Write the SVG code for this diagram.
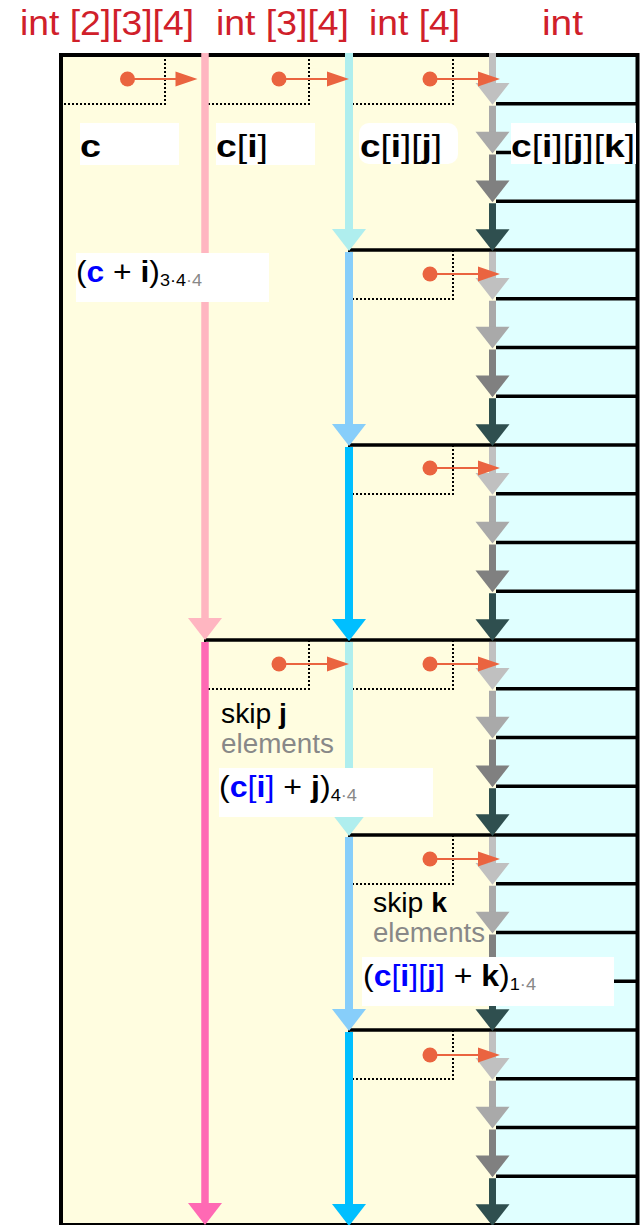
<svg xmlns="http://www.w3.org/2000/svg" xmlns:xlink="http://www.w3.org/1999/xlink" width="641" height="1225" viewBox="0 0 641 1225">
<style>
.h{font-family:"Liberation Sans",Arial,sans-serif;font-size:35px;fill:#D0202A}
.lb{font-family:"Liberation Sans",Arial,sans-serif;font-size:32px;font-weight:bold;fill:#000}
.m{font-family:"Liberation Sans",Arial,sans-serif;font-size:30px;fill:#000}
.s{font-family:"Liberation Sans",Arial,sans-serif;font-size:27px;fill:#000}
.n{font-weight:normal}
.b{font-weight:bold}
.bl{fill:#0000FF}
.g{fill:#888888}
.sub{font-size:17px;font-weight:normal}
.wb{fill:#FFFFFF}
.ln{stroke:#000;stroke-width:3.5}
.dot{fill:none;stroke:#000;stroke-width:2;stroke-dasharray:2 2}
.or{fill:#EA6440}
.orl{stroke:#EA6440;stroke-width:2}
</style>
<defs>
<g id="ga"><rect x="-3.5" y="2" width="7" height="27"/><polygon points="-17,28 17,28 0,49.75"/></g>
<g id="ca"><rect x="-4" y="2" width="8" height="173"/><polygon points="-17,174 17,174 0,196"/></g>
<g id="pa"><rect x="-3.75" y="2" width="7.5" height="563"/><polygon points="-17,563 17,563 0,585"/></g>
<g id="op"><circle cx="0" cy="0" r="7.5" class="or"/><line x1="0" y1="0" x2="50" y2="0" class="orl"/><polygon points="48,-7.5 70,0 48,7.5" class="or"/></g>
</defs>
<g id="background">
<rect x="61" y="55" width="435" height="1170" fill="#FFFDE0"/>
<rect x="496" y="55" width="141" height="1170" fill="#E0FFFF"/>
</g>
<g id="connectors">
<g id="cell-lines">
<line class="ln" x1="496" y1="103.75" x2="637" y2="103.75"/>
<line class="ln" x1="496" y1="152.5" x2="637" y2="152.5"/>
<line class="ln" x1="496" y1="201.25" x2="637" y2="201.25"/>
<line class="ln" x1="349" y1="250" x2="637" y2="250"/>
<line class="ln" x1="496" y1="298.75" x2="637" y2="298.75"/>
<line class="ln" x1="496" y1="347.5" x2="637" y2="347.5"/>
<line class="ln" x1="496" y1="396.25" x2="637" y2="396.25"/>
<line class="ln" x1="349" y1="445" x2="637" y2="445"/>
<line class="ln" x1="496" y1="493.75" x2="637" y2="493.75"/>
<line class="ln" x1="496" y1="542.5" x2="637" y2="542.5"/>
<line class="ln" x1="496" y1="591.25" x2="637" y2="591.25"/>
<line class="ln" x1="205" y1="640" x2="637" y2="640"/>
<line class="ln" x1="496" y1="688.75" x2="637" y2="688.75"/>
<line class="ln" x1="496" y1="737.5" x2="637" y2="737.5"/>
<line class="ln" x1="496" y1="786.25" x2="637" y2="786.25"/>
<line class="ln" x1="349" y1="835" x2="637" y2="835"/>
<line class="ln" x1="496" y1="883.75" x2="637" y2="883.75"/>
<line class="ln" x1="496" y1="932.5" x2="637" y2="932.5"/>
<line class="ln" x1="496" y1="981.25" x2="637" y2="981.25"/>
<line class="ln" x1="349" y1="1030" x2="637" y2="1030"/>
<line class="ln" x1="496" y1="1078.75" x2="637" y2="1078.75"/>
<line class="ln" x1="496" y1="1127.5" x2="637" y2="1127.5"/>
<line class="ln" x1="496" y1="1176.25" x2="637" y2="1176.25"/>
</g>
<g id="outer-box"><rect x="61" y="55" width="576.5" height="1170" fill="none" stroke="#000" stroke-width="4"/></g>
<g id="dotted">
<rect class="dot" x="61" y="55" width="104" height="49"/>
<rect class="dot" x="205" y="55" width="104" height="49"/>
<rect class="dot" x="349" y="55" width="104" height="49"/>
<rect class="dot" x="349" y="250" width="104" height="49"/>
<rect class="dot" x="349" y="445" width="104" height="49"/>
<rect class="dot" x="205" y="640" width="104" height="49"/>
<rect class="dot" x="349" y="640" width="104" height="49"/>
<rect class="dot" x="349" y="835" width="104" height="49"/>
<rect class="dot" x="349" y="1030" width="104" height="49"/>
</g>
<g id="pink-arrows">
<rect x="201.25" y="53" width="7.5" height="5" fill="#FFB6C1"/>
<use xlink:href="#pa" x="205" y="55" fill="#FFB6C1"/>
<use xlink:href="#pa" x="205" y="640" fill="#FF69B4"/>
</g>
<g id="cyan-arrows">
<rect x="345" y="53" width="8" height="5" fill="#AFEEEE"/>
<use xlink:href="#ca" x="349" y="55" fill="#AFEEEE"/>
<use xlink:href="#ca" x="349" y="250" fill="#87CEFA"/>
<use xlink:href="#ca" x="349" y="445" fill="#00BFFF"/>
<use xlink:href="#ca" x="349" y="640" fill="#AFEEEE"/>
<use xlink:href="#ca" x="349" y="835" fill="#87CEFA"/>
<use xlink:href="#ca" x="349" y="1030" fill="#00BFFF"/>
</g>
<g id="gray-arrows">
<rect x="489" y="53" width="7" height="5" fill="#C0C0C0"/>
<use xlink:href="#ga" x="492.5" y="55" fill="#C0C0C0"/>
<use xlink:href="#ga" x="492.5" y="103.75" fill="#A9A9A9"/>
<use xlink:href="#ga" x="492.5" y="152.5" fill="#808080"/>
<use xlink:href="#ga" x="492.5" y="201.25" fill="#2F4F4F"/>
<use xlink:href="#ga" x="492.5" y="250" fill="#C0C0C0"/>
<use xlink:href="#ga" x="492.5" y="298.75" fill="#A9A9A9"/>
<use xlink:href="#ga" x="492.5" y="347.5" fill="#808080"/>
<use xlink:href="#ga" x="492.5" y="396.25" fill="#2F4F4F"/>
<use xlink:href="#ga" x="492.5" y="445" fill="#C0C0C0"/>
<use xlink:href="#ga" x="492.5" y="493.75" fill="#A9A9A9"/>
<use xlink:href="#ga" x="492.5" y="542.5" fill="#808080"/>
<use xlink:href="#ga" x="492.5" y="591.25" fill="#2F4F4F"/>
<use xlink:href="#ga" x="492.5" y="640" fill="#C0C0C0"/>
<use xlink:href="#ga" x="492.5" y="688.75" fill="#A9A9A9"/>
<use xlink:href="#ga" x="492.5" y="737.5" fill="#808080"/>
<use xlink:href="#ga" x="492.5" y="786.25" fill="#2F4F4F"/>
<use xlink:href="#ga" x="492.5" y="835" fill="#C0C0C0"/>
<use xlink:href="#ga" x="492.5" y="883.75" fill="#A9A9A9"/>
<use xlink:href="#ga" x="492.5" y="932.5" fill="#808080"/>
<use xlink:href="#ga" x="492.5" y="981.25" fill="#2F4F4F"/>
<use xlink:href="#ga" x="492.5" y="1030" fill="#C0C0C0"/>
<use xlink:href="#ga" x="492.5" y="1078.75" fill="#A9A9A9"/>
<use xlink:href="#ga" x="492.5" y="1127.5" fill="#808080"/>
<use xlink:href="#ga" x="492.5" y="1176.25" fill="#2F4F4F"/>
</g>
<g id="pointer-arrows">
<use xlink:href="#op" x="127.5" y="79"/>
<use xlink:href="#op" x="279" y="79"/>
<use xlink:href="#op" x="430" y="79"/>
<use xlink:href="#op" x="430" y="274"/>
<use xlink:href="#op" x="430" y="468"/>
<use xlink:href="#op" x="279" y="664"/>
<use xlink:href="#op" x="430" y="664"/>
<use xlink:href="#op" x="430" y="859"/>
<use xlink:href="#op" x="430" y="1055"/>
</g>
</g>
<g id="headers">
<text class="h" x="20" y="35" textLength="174" lengthAdjust="spacingAndGlyphs">int [2][3][4]</text>
<text class="h" x="216" y="35" textLength="133" lengthAdjust="spacingAndGlyphs">int [3][4]</text>
<text class="h" x="369" y="35" textLength="91" lengthAdjust="spacingAndGlyphs">int [4]</text>
<text class="h" x="542" y="35" textLength="41" lengthAdjust="spacingAndGlyphs">int</text>
</g>
<g id="label-c"><rect class="wb" x="80" y="123" width="99" height="42"/><text class="lb" x="80" y="157" textLength="21" lengthAdjust="spacingAndGlyphs">c</text></g>
<g id="label-ci"><rect class="wb" x="216" y="123" width="99" height="42"/><text class="lb" x="216" y="157" textLength="52" lengthAdjust="spacingAndGlyphs">c<tspan class="n">[</tspan>i<tspan class="n">]</tspan></text></g>
<g id="label-cij"><rect class="wb" x="359" y="123" width="99" height="41" rx="10"/><text class="lb" x="360" y="157" textLength="82" lengthAdjust="spacingAndGlyphs">c<tspan class="n">[</tspan>i<tspan class="n">][</tspan>j<tspan class="n">]</tspan></text></g>
<g id="label-cijk"><rect class="wb" x="511" y="123" width="125" height="41"/><text class="lb" x="511" y="157" textLength="124" lengthAdjust="spacingAndGlyphs">c<tspan class="n">[</tspan>i<tspan class="n">][</tspan>j<tspan class="n">][</tspan>k<tspan class="n">]</tspan></text></g>
<g id="expr-ci"><rect class="wb" x="76" y="253" width="193" height="49"/><text class="m" x="76" y="282" textLength="126" lengthAdjust="spacingAndGlyphs">(<tspan class="b bl">c</tspan> + <tspan class="b">i</tspan>)<tspan class="sub" dy="4">3·4</tspan><tspan class="sub g">·4</tspan></text></g>
<g id="skip-j"><text class="s" x="221" y="723" textLength="66" lengthAdjust="spacingAndGlyphs">skip <tspan class="b">j</tspan></text><text class="s g" x="221" y="753" textLength="113" lengthAdjust="spacingAndGlyphs">elements</text></g>
<g id="expr-cij"><rect class="wb" x="219" y="768" width="214" height="49"/><text class="m" x="219" y="797" textLength="138" lengthAdjust="spacingAndGlyphs">(<tspan class="b bl">c</tspan><tspan class="bl">[</tspan><tspan class="b bl">i</tspan><tspan class="bl">]</tspan> + <tspan class="b">j</tspan>)<tspan class="sub" dy="4">4</tspan><tspan class="sub g">·4</tspan></text></g>
<g id="skip-k"><text class="s" x="373" y="912" textLength="74" lengthAdjust="spacingAndGlyphs">skip <tspan class="b">k</tspan></text><text class="s g" x="373" y="942" textLength="112" lengthAdjust="spacingAndGlyphs">elements</text></g>
<g id="expr-cijk"><rect class="wb" x="362" y="957" width="252" height="49"/><text class="m" x="363" y="986" textLength="173" lengthAdjust="spacingAndGlyphs">(<tspan class="b bl">c</tspan><tspan class="bl">[</tspan><tspan class="b bl">i</tspan><tspan class="bl">][</tspan><tspan class="b bl">j</tspan><tspan class="bl">]</tspan> + <tspan class="b">k</tspan>)<tspan class="sub" dy="4">1</tspan><tspan class="sub g">·4</tspan></text></g>
</svg>
